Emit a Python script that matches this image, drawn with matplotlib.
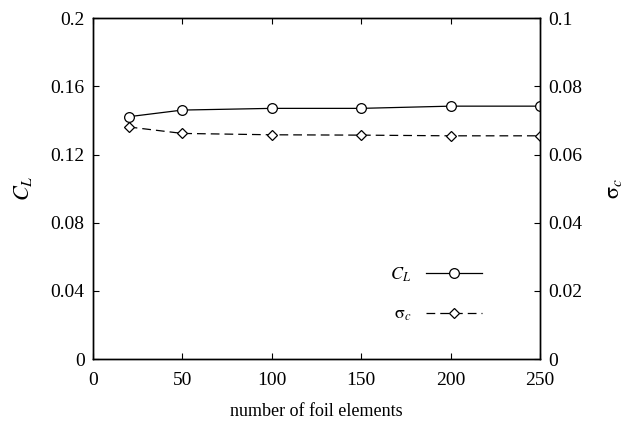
import matplotlib.pyplot as plt

plt.rcParams['font.family'] = 'Liberation Serif'
plt.rcParams['mathtext.fontset'] = 'stix'

# lift coefficient and cavitation number against panel count
n_elements = [20, 50, 100, 150, 200, 250]
cl = [0.1422, 0.1461, 0.1471, 0.1471, 0.1484, 0.1484]
sigma_c = [0.0681, 0.0662, 0.0658, 0.0657, 0.0655, 0.0655]

cl_ticks = [0, 0.04, 0.08, 0.12, 0.16, 0.2]
cl_labels = ['0', '0.04', '0.08', '0.12', '0.16', '0.2']
sig_ticks = [0, 0.02, 0.04, 0.06, 0.08, 0.1]
sig_labels = ['0', '0.02', '0.04', '0.06', '0.08', '0.1']
x_ticks = [0, 50, 100, 150, 200, 250]

fig = plt.figure(figsize=(6.36, 4.23), dpi=100)
ax = fig.add_axes([0.146, 0.151, 0.703, 0.806])
ax2 = ax.twinx()

l1, = ax.plot(n_elements, cl, color='black', lw=0.9, marker='o', ms=7,
              mfc='white', mec='black', mew=0.9, label='$C_L$')
l2, = ax2.plot(n_elements, sigma_c, color='black', lw=0.9, ls=(0, (7, 4)),
               marker='D', ms=5.5, mfc='white', mec='black', mew=0.9,
               label=r'$\mathrm{\sigma}_c$')

ax.set_xlim(0, 250)
ax.set_ylim(0, 0.2)
ax2.set_ylim(0, 0.1)
ax.set_xticks(x_ticks)
ax.set_yticks(cl_ticks)
ax.set_yticklabels(cl_labels)
ax2.set_yticks(sig_ticks)
ax2.set_yticklabels(sig_labels)

ax.tick_params(axis='x', direction='in', top=True, length=4, labelsize=14, pad=9)
ax.tick_params(axis='y', direction='in', length=4, labelsize=14, pad=6)
ax2.tick_params(axis='y', direction='in', length=4, labelsize=14, pad=6)

for a in (ax, ax2):
    for s in a.spines.values():
        s.set_linewidth(1.0)

ax.set_xlabel('number of foil elements', fontsize=13, labelpad=10)
ax.set_ylabel('$C_L$', fontsize=16, labelpad=12)
ax2.set_ylabel(r'$\mathrm{\sigma}_c$', fontsize=16, labelpad=16)

ax2.legend(handles=[l1, l2], loc='lower right', markerfirst=False,
           frameon=False, fontsize=13, handlelength=3.1, handletextpad=0.8,
           labelspacing=1.2, borderaxespad=0,
           bbox_to_anchor=(0.886, 0.084))

fig.savefig('out.png', dpi=100)
